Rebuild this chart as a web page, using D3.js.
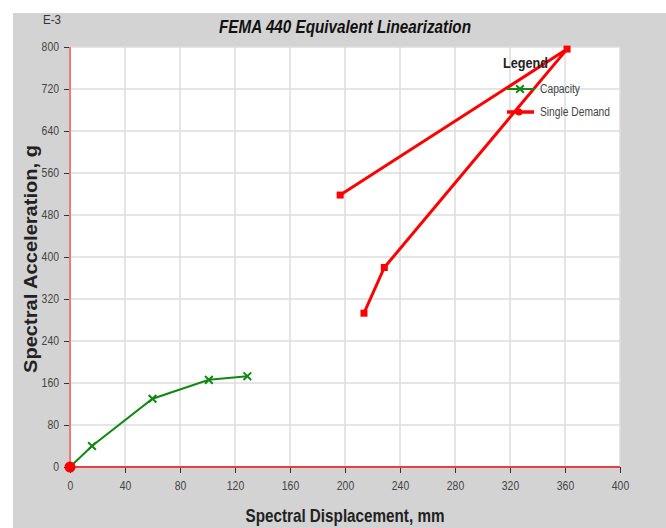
<!DOCTYPE html>
<html><head><meta charset="utf-8">
<script src="https://cdn.jsdelivr.net/npm/d3@7"></script>
<style>
html,body{margin:0;padding:0;background:#fff;}
svg{display:block;}
</style></head>
<body>
<svg id="chart" width="666" height="528"></svg>
<script>
const xTicks = [0,40,80,120,160,200,240,280,320,360,400];
const yTicks = [0,80,160,240,320,400,480,560,640,720,800];
const capacityX = [0,16,60,101,129];
const capacityY = [0,40,130,166,173];
const demandX = [196.5,361.5,228.6,213.8];
const demandY = [518,796,380,293];
const originPoint = [0,0];
const legendLabels = ["Capacity","Single Demand"];

const svg = d3.select("#chart");
const W = 666, H = 528;
const sans = "'Liberation Sans',Arial,sans-serif";

svg.append("rect").attr("x",13).attr("y",13).attr("width",W-13).attr("height",H-13).attr("fill","#d3d3d3");

const x = d3.scaleLinear().domain([0,400]).range([70,620]);
const y = d3.scaleLinear().domain([0,800]).range([467,47]);

svg.append("rect").attr("x",x(0)).attr("y",y(800)).attr("width",x(400)-x(0)).attr("height",y(0)-y(800)).attr("fill","#fff");

// grid
svg.append("g").selectAll("line").data(xTicks.slice(1)).join("line")
  .attr("x1",d=>x(d)).attr("x2",d=>x(d)).attr("y1",y(800)).attr("y2",y(0))
  .attr("stroke","#dcdcdc").attr("stroke-width",1.5);
svg.append("g").selectAll("line").data(yTicks.slice(1)).join("line")
  .attr("x1",x(0)).attr("x2",x(400)).attr("y1",d=>y(d)).attr("y2",d=>y(d))
  .attr("stroke","#dcdcdc").attr("stroke-width",1.5);

function narrowTicks(sel){
  sel.selectAll(".tick text").attr("fill","#444").style("font-family",sans).style("font-size","12px")
    .attr("textLength",d=>String(d).length*5.8).attr("lengthAdjust","spacingAndGlyphs");
}
// axes
const xAxis = d3.axisBottom(x).tickValues(xTicks).tickSize(6).tickPadding(8);
const gx = svg.append("g").attr("transform",`translate(0,${y(0)})`).call(xAxis);
gx.select(".domain").remove();
gx.selectAll(".tick line").attr("stroke","#333");
narrowTicks(gx);

const yAxis = d3.axisLeft(y).tickValues(yTicks).tickSize(6).tickPadding(5);
const gy = svg.append("g").attr("transform",`translate(${x(0)},0)`).call(yAxis);
gy.select(".domain").remove();
gy.selectAll(".tick line").attr("stroke","#333");
narrowTicks(gy);

svg.append("line").attr("x1",x(0)).attr("x2",x(0)).attr("y1",y(800)).attr("y2",y(0))
  .attr("stroke","#f07878").attr("stroke-width",2);
svg.append("line").attr("x1",x(0)).attr("x2",x(400)).attr("y1",y(0)).attr("y2",y(0))
  .attr("stroke","#e84040").attr("stroke-width",2);

// capacity
const cap = capacityX.map((d,i)=>[d,capacityY[i]]);
const line = d3.line().x(d=>x(d[0])).y(d=>y(d[1]));
svg.append("path").attr("d",line(cap)).attr("fill","none").attr("stroke","#118811").attr("stroke-width",2);
const xm = d3.symbol().type(d3.symbolX).size(40);
svg.append("g").selectAll("path").data(cap.slice(1)).join("path")
  .attr("d",xm).attr("transform",d=>`translate(${x(d[0])},${y(d[1])})`)
  .attr("fill","none").attr("stroke","#118811").attr("stroke-width",2);

// demand
const dem = demandX.map((d,i)=>[d,demandY[i]]);
svg.append("path").attr("d",line(dem)).attr("fill","none").attr("stroke","#ff0000").attr("stroke-width",3).attr("stroke-linejoin","round");
svg.append("g").selectAll("rect").data(dem).join("rect")
  .attr("x",d=>x(d[0])-3.5).attr("y",d=>y(d[1])-3.5).attr("width",7).attr("height",7).attr("fill","#ff0000");

svg.append("circle").attr("cx",x(originPoint[0])).attr("cy",y(originPoint[1])).attr("r",5.5).attr("fill","#ff0000");

// titles
svg.append("text").attr("x",345).attr("y",33).attr("text-anchor","middle")
  .style("font-family",sans).style("font-size","19px").style("font-weight","bold").style("font-style","italic")
  .attr("textLength",252).attr("lengthAdjust","spacingAndGlyphs")
  .attr("fill","#111").text("FEMA 440 Equivalent Linearization");
svg.append("text").attr("x",43).attr("y",24).style("font-family",sans).style("font-size","12px").attr("fill","#333")
  .attr("textLength",18).attr("lengthAdjust","spacingAndGlyphs").text("E-3");
svg.append("text").attr("x",345).attr("y",522).attr("text-anchor","middle")
  .style("font-family",sans).style("font-size","19px").style("font-weight","bold").attr("fill","#222")
  .attr("textLength",199).attr("lengthAdjust","spacingAndGlyphs")
  .text("Spectral Displacement, mm");
svg.append("text").attr("transform","translate(37,259) rotate(-90)").attr("text-anchor","middle")
  .style("font-family",sans).style("font-size","19px").style("font-weight","bold").attr("fill","#222")
  .attr("textLength",228).attr("lengthAdjust","spacingAndGlyphs")
  .text("Spectral Acceleration, g");

// legend
svg.append("text").attr("x",503).attr("y",68).style("font-family",sans).style("font-size","14px").style("font-weight","bold").attr("fill","#222")
  .attr("textLength",45).attr("lengthAdjust","spacingAndGlyphs").text("Legend");
svg.append("line").attr("x1",507).attr("x2",535).attr("y1",89).attr("y2",89).attr("stroke","#118811").attr("stroke-width",2);
svg.append("path").attr("d",xm).attr("transform","translate(520,89)").attr("fill","none").attr("stroke","#118811").attr("stroke-width",2);
svg.append("line").attr("x1",507).attr("x2",534).attr("y1",112).attr("y2",112).attr("stroke","#ff0000").attr("stroke-width",3.5);
svg.append("circle").attr("cx",519).attr("cy",112).attr("r",3.5).attr("fill","#ff0000");
svg.append("g").selectAll("text").data(legendLabels).join("text")
  .attr("x",540).attr("y",(d,i)=>93+i*23).style("font-family",sans).style("font-size","12px").attr("fill","#444")
  .attr("textLength",(d,i)=>[40,70][i]).attr("lengthAdjust","spacingAndGlyphs").text(d=>d);
</script>
</body></html>
